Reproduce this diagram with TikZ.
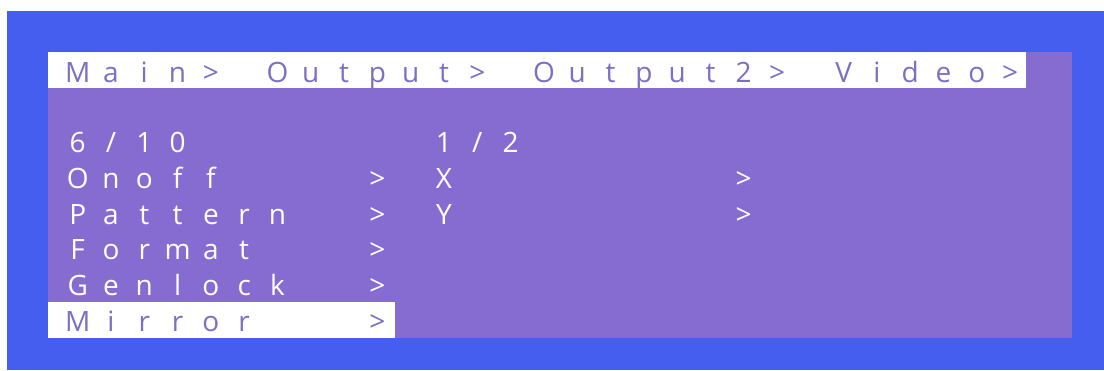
\documentclass[tikz,border=0pt]{standalone}
\usepackage{fontspec}
\newfontfamily\osdfamily{Open Sans}
\definecolor{bgblue}{HTML}{455EF0}
\definecolor{panel}{HTML}{866CD0}
\definecolor{dimtext}{HTML}{7B70C2}
\newlength\gp
\setlength\gp{33.3pt}
\def\gcloop#1{\ifx\relax#1\else\makebox[\gp][c]{#1}\expandafter\gcloop\fi}
\newcommand\gchars[1]{\gcloop#1\relax}
\tikzset{
  osd/.style={inner sep=0pt, anchor=base west, text=white,
    font=\osdfamily\fontsize{28}{30}\selectfont},
  osddim/.style={osd, text=dimtext},
}
\begin{document}
\begin{tikzpicture}[x=1pt,y=-1pt]
\useasboundingbox (0,0) rectangle (1104,370);
\fill[white] (0,0) rectangle (1104,370);
\fill[bgblue] (7,11) rectangle (1104,370);
\fill[panel] (48,52) rectangle (1072,338);
\fill[white] (48,52) rectangle (1026,88);
\fill[white] (48,302) rectangle (395,338);
% grid: column 0 left edge at 60.85, pitch 33.3
\node[osddim] (hdr) at (60.85,82) {\gchars{Main>~Output>~Output2>~Video>}};
\node[osd] (cnt) at (60.85,152) {\gchars{6/10}};
\node[osd] (onoff) at (60.85,188) {\gchars{Onoff}};
\node[osd] (pattern) at (60.85,224) {\gchars{Pattern}};
\node[osd] (format) at (60.85,259) {\gchars{Format}};
\node[osd] (genlock) at (60.85,295) {\gchars{Genlock}};
\node[osddim] (mirror) at (60.85,331) {\gchars{Mirror}};
\node[osd] (a1) at (360.55,188) {\gchars{>}};
\node[osd] (a2) at (360.55,224) {\gchars{>}};
\node[osd] (a3) at (360.55,259) {\gchars{>}};
\node[osd] (a4) at (360.55,295) {\gchars{>}};
\node[osddim] (a5) at (360.55,331) {\gchars{>}};
\node[osd] (rcnt) at (427.15,152) {\gchars{1/2}};
\node[osd] (xitem) at (427.15,188) {\gchars{X}};
\node[osd] (yitem) at (427.15,224) {\gchars{Y}};
\node[osd] (xa) at (726.85,188) {\gchars{>}};
\node[osd] (ya) at (726.85,224) {\gchars{>}};
\end{tikzpicture}
\end{document}
